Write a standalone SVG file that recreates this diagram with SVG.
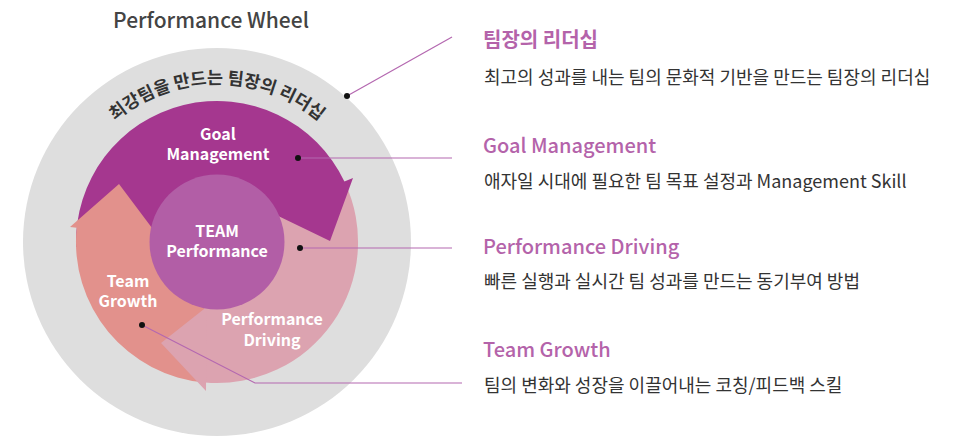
<svg xmlns="http://www.w3.org/2000/svg" width="977" height="439" viewBox="0 0 977 439">
<style>
text{font-family:"Noto Sans CJK KR","Noto Sans",sans-serif}
.w{fill:#fff;font-size:16px;font-weight:700;text-anchor:middle}
.h{fill:#B463AA;font-size:20px;font-weight:500}
.b{fill:#333;font-size:18px;font-weight:400}
.ln{stroke:#B468B0;stroke-width:1.2;fill:none}
.dot{fill:#111}
</style>
<defs>
<path id="arc" d="M 59 242 A 158 158 0 0 1 375 242"/>
</defs>
<rect width="977" height="439" fill="#fff"/>
<text x="211" y="28" text-anchor="middle" style="font-size:21px;font-weight:500;fill:#444">Performance Wheel</text>
<g id="outer"><circle cx="217" cy="242" r="194" fill="#DEDEDE"/>
<text style="font-size:17.5px;font-weight:700;fill:#333"><textPath href="#arc" startOffset="50%" text-anchor="middle">최강팀을 만드는 팀장의 리더십</textPath></text></g>
<g id="performance-driving">
<path d="M 344.4 181.5 A 141 141 0 0 1 205 382.5 L 205 301 A 60 60 0 0 0 271.2 216.3 Z" fill="#DCA3B0"/>
</g>
<g id="goal-management">
<path d="M 76.1 246.9 A 141 141 0 0 1 344.4 181.5 L 353 178 L 330 241 L 270 212 L 271.2 216.3 A 60 60 0 0 0 157 244.1 Z" fill="#A5378F"/>
</g>
<g id="team-growth">
<path d="M 205 382.5 A 141 141 0 0 1 76.7 227.7 L 70 227 L 119 184 L 158 236 L 157.3 235.9 A 60 60 0 0 0 205 301 Z" fill="#E2918C"/>
</g>
<path d="M 206 391 L 161 343 L 204 309 L 205.5 299 L 206.5 300 Z" fill="#DCA3B0"/>
<g id="team-performance">
<circle cx="217" cy="242" r="67.5" fill="#B25EA6"/>
<text class="w" x="217" y="237">TEAM<tspan x="217" dy="20">Performance</tspan></text>
</g>
<text class="w" x="218" y="140">Goal<tspan x="218" dy="20">Management</tspan></text>
<text class="w" x="128" y="287">Team<tspan x="128" dy="20">Growth</tspan></text>
<text class="w" x="272" y="325">Performance<tspan x="272" dy="21">Driving</tspan></text>
<g id="connectors">
<path class="ln" d="M 347 96 L 452 37"/>
<path class="ln" d="M 298 158 L 452 158"/>
<path class="ln" d="M 300 248 L 452 248"/>
<path class="ln" d="M 142 325 L 255 383 L 462 383"/>
<circle class="dot" cx="347" cy="96" r="3"/>
<circle class="dot" cx="298" cy="158" r="3"/>
<circle class="dot" cx="300" cy="248" r="3"/>
<circle class="dot" cx="142" cy="325" r="3"/>
</g>
<g id="label-leadership">
<text class="h" x="483" y="47" style="font-weight:700">팀장의 리더십</text>
<text class="b" x="484" y="84">최고의 성과를 내는 팀의 문화적 기반을 만드는 팀장의 리더십</text>
</g>
<g id="label-goal">
<text class="h" x="483" y="153">Goal Management</text>
<text class="b" x="484" y="188">애자일 시대에 필요한 팀 목표 설정과 Management Skill</text>
</g>
<g id="label-driving">
<text class="h" x="483" y="254">Performance Driving</text>
<text class="b" x="484" y="288">빠른 실행과 실시간 팀 성과를 만드는 동기부여 방법</text>
</g>
<g id="label-growth">
<text class="h" x="483" y="357">Team Growth</text>
<text class="b" x="484" y="392">팀의 변화와 성장을 이끌어내는 코칭/피드백 스킬</text>
</g>
</svg>
